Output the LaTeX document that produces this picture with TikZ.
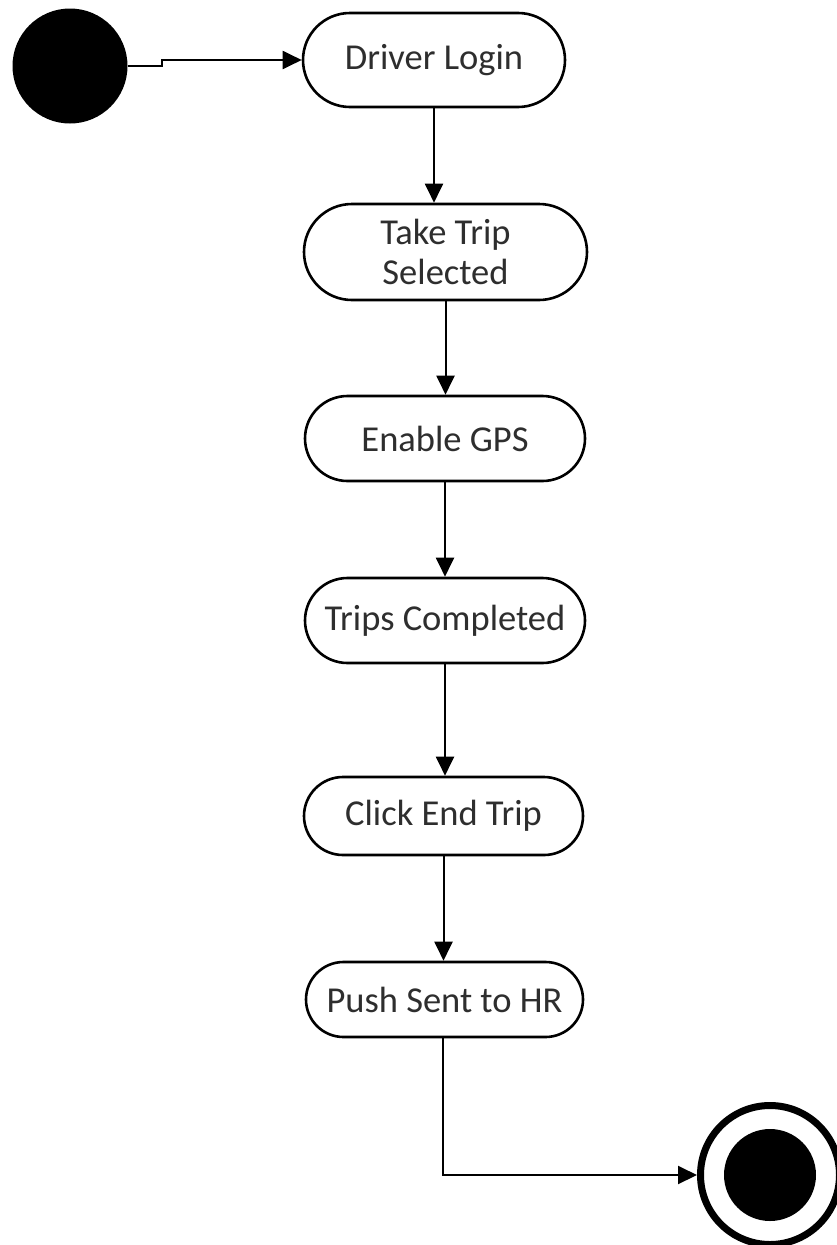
\documentclass[tikz,border=0pt]{standalone}
\usepackage{fontspec}
\setmainfont{Carlito}
\usetikzlibrary{arrows.meta,shapes.misc}
\begin{document}
\begin{tikzpicture}[x=1pt,y=-1pt,
  state/.style={rounded rectangle, draw=black, line width=2.6pt, fill=white,
    text=black!82, font=\fontsize{36.5}{40}\selectfont, align=center, inner sep=0pt},
  flow/.style={draw=black, line width=2pt, -{Triangle[length=19pt,width=18pt]}}
]
\useasboundingbox (0,0) rectangle (836,1245);
\fill[white] (0,0) rectangle (836,1245);

% initial and final pseudo-states
\node[circle, fill=black, minimum size=115pt, inner sep=0pt] (init) at (70,66) {};
\node[circle, draw=black, line width=7pt, minimum size=139pt, inner sep=0pt] (final) at (770,1175) {};
\node[circle, fill=black, minimum size=92pt, inner sep=0pt] (finaldot) at (final.center) {};

% activity states
\node[state, minimum width=262pt, minimum height=94pt] (login) at (434,60) {Driver Login};
\node[state, minimum width=283pt, minimum height=96pt] (take) at (445.5,252) {Take Trip\\Selected};
\node[state, minimum width=280pt, minimum height=85pt] (gps) at (445,438.5) {Enable GPS};
\node[state, minimum width=280pt, minimum height=85pt] (done) at (445,620.5) {Trips Completed};
\node[state, minimum width=279pt, minimum height=78pt] (endtrip) at (443.5,816) {Click End Trip};
\node[state, minimum width=277pt, minimum height=75pt] (push) at (444.5,999.5) {Push Sent to HR};

% transitions
\coordinate (j1) at (162,66);
\coordinate (j2) at (162,60);
\draw[flow] (init.east) -- (j1) -- (j2) -- (login.west);
\draw[flow] (login.south) -- (login.south |- take.north);
\draw[flow] (take.south) -- (take.south |- gps.north);
\draw[flow] (gps.south) -- (gps.south |- done.north);
\draw[flow] (done.south) -- (done.south |- endtrip.north);
\draw[flow] (endtrip.south) -- (endtrip.south |- push.north);
\coordinate (j3) at (443,1175);
\draw[flow] (push.south -| j3) -- (j3) -- (final.west);
\end{tikzpicture}
\end{document}
